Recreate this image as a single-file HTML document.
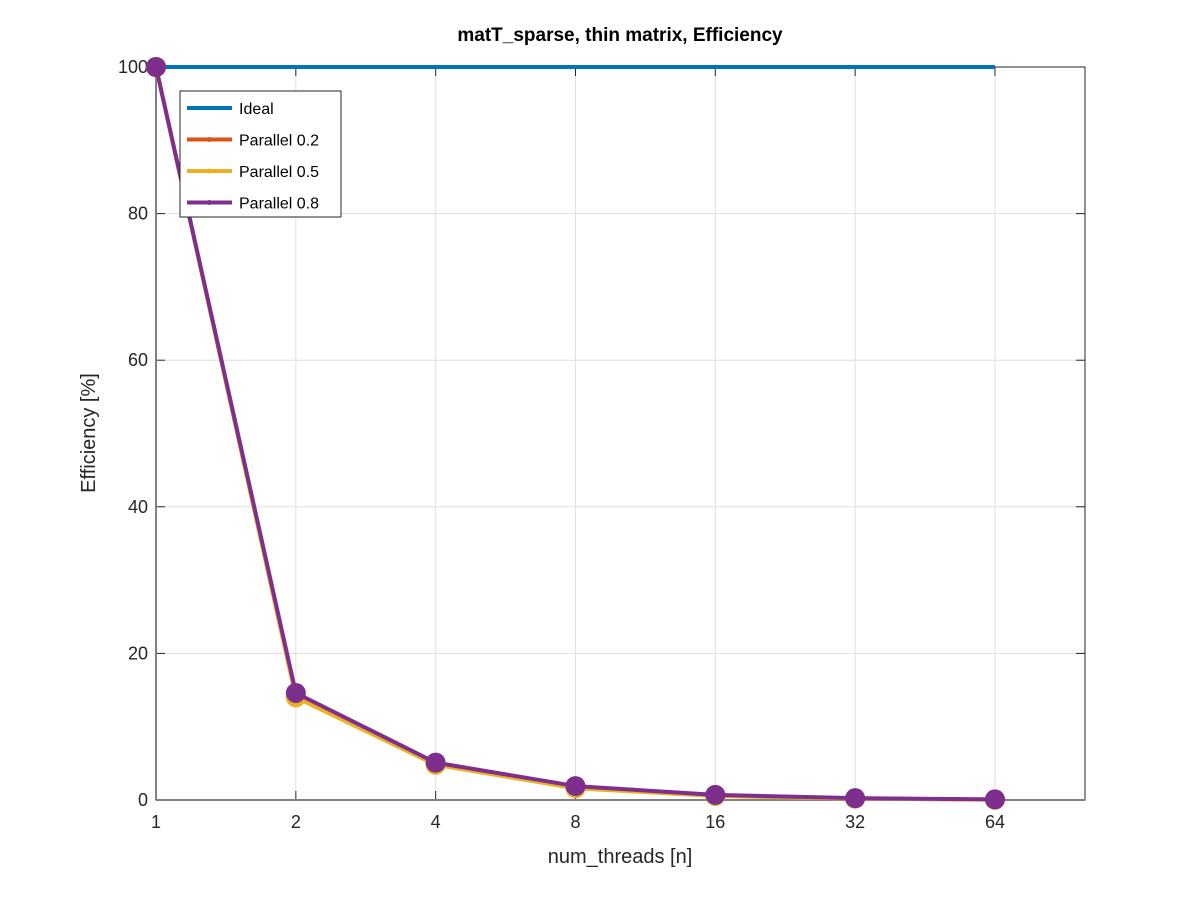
<!DOCTYPE html>
<html><head><meta charset="utf-8"><style>
body{margin:0;background:#fff;}
svg{display:block;font-family:"Liberation Sans",sans-serif;}
</style></head><body>
<svg id="chart" width="1200" height="900">
<rect width="1200" height="900" fill="#fff"/>
<g id="grid"></g>
<g id="axes"></g>
<g id="series"></g>
<text x="620" y="41" text-anchor="middle" font-size="19" font-weight="bold">matT_sparse, thin matrix, Efficiency</text>
<text x="620" y="863" text-anchor="middle" font-size="20" fill="#262626">num_threads [n]</text>
<text transform="translate(95,433) rotate(-90)" text-anchor="middle" font-size="20" fill="#262626">Efficiency [%]</text>
<g id="legend"></g>
</svg>
<script>
const threads=[1,2,4,8,16,32,64];
const ideal=[100,100,100,100,100,100,100];
const par02=[100,14.1,5.0,1.7,0.6,0.2,0.05];
const par05=[100,14.0,4.8,1.6,0.55,0.18,0.05];
const par08=[100,14.6,5.1,1.9,0.7,0.25,0.08];
const xTicks=[1,2,4,8,16,32,64];
const yTicks=[0,20,40,60,80,100];
const seriesNames=["Ideal","Parallel 0.2","Parallel 0.5","Parallel 0.8"];
const colors=["#0072BD","#D95319","#EDB120","#7E2F8E"];

const L=156,R=1085,T=67,B=800;
const xs=v=>L+(Math.log10(v)/2)*(R-L);
const ys=v=>B-(v/100)*(B-T);
const NS="http://www.w3.org/2000/svg";
function mk(tag,attrs,parent){const e=document.createElementNS(NS,tag);for(const k in attrs)e.setAttribute(k,attrs[k]);parent.appendChild(e);return e;}
const grid=document.getElementById('grid'),axes=document.getElementById('axes'),ser=document.getElementById('series'),leg=document.getElementById('legend');
mk('rect',{x:L,y:T,width:R-L,height:B-T,fill:'#fff'},grid);
xTicks.forEach(t=>{const x=xs(t);
 const g=mk('line',{x1:x,x2:x,y1:T,y2:B,stroke:'#dfdfdf','stroke-width':1},grid);
 
 mk('line',{x1:x,x2:x,y1:B,y2:B-9,stroke:'#262626'},axes);
 mk('line',{x1:x,x2:x,y1:T,y2:T+9,stroke:'#262626'},axes);
 const tx=mk('text',{x:x,y:B+28,'text-anchor':'middle','font-size':18,fill:'#262626'},axes);tx.textContent=t;
 });
yTicks.forEach(t=>{const y=ys(t);
 const g=mk('line',{x1:L,x2:R,y1:y,y2:y,stroke:'#dfdfdf','stroke-width':1},grid);
 
 mk('line',{x1:L,x2:L+9,y1:y,y2:y,stroke:'#262626'},axes);
 mk('line',{x1:R,x2:R-9,y1:y,y2:y,stroke:'#262626'},axes);
 const tx=mk('text',{x:L-8,y:y+6,'text-anchor':'end','font-size':18,fill:'#262626'},axes);tx.textContent=t;
 });
const fr=mk('rect',{x:L,y:T,width:R-L,height:B-T,fill:'none',stroke:'#262626','stroke-width':1},axes);

mk('line',{x1:L,x2:R,y1:B,y2:B,stroke:'#808080','stroke-width':2},axes);
mk('line',{x1:L,x2:L,y1:T,y2:B,stroke:'#808080','stroke-width':2},axes);

const data=[ideal,par02,par05,par08];
data.forEach((d,i)=>{
 const pts=threads.map((t,j)=>xs(t)+','+ys(d[j])).join(' ');
 const pl=mk('polyline',{points:pts,fill:'none',stroke:colors[i],'stroke-width':4,'stroke-linejoin':'round'},ser);
 
 if(i>0)threads.forEach((t,j)=>{const c=mk('circle',{cx:xs(t),cy:ys(d[j]),r:10,fill:colors[i]},ser);
  });
});
const lb=mk('rect',{x:180,y:91,width:161,height:126,fill:'#fff',stroke:'#262626','stroke-width':1},leg);
seriesNames.forEach((n,i)=>{const y=108+i*31.5;
 mk('line',{x1:187,x2:232,y1:y,y2:y,stroke:colors[i],'stroke-width':4},leg);
 if(i>0)mk('circle',{cx:209.5,cy:y,r:2.5,fill:colors[i]},leg);
 const tx=mk('text',{x:239,y:y+6,'font-size':16,fill:'#000'},leg);tx.textContent=n;
 });
</script>
</body></html>
